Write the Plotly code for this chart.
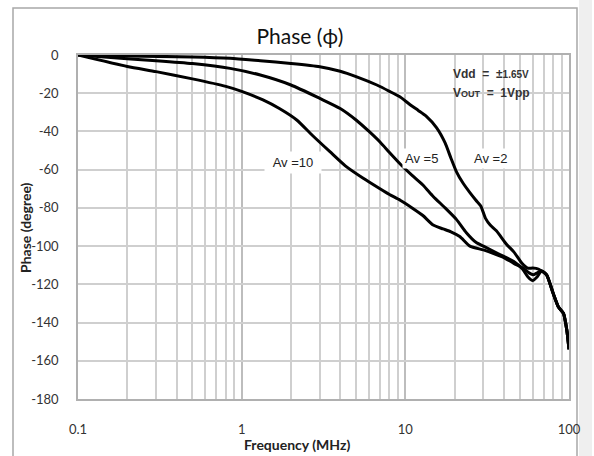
import plotly.graph_objects as go

# ---- data ----
f_av2 = [0.1, 0.2, 0.5, 0.85, 1.3, 2, 3, 4, 5, 6.7, 8, 9.3, 10.7, 12, 13.4, 15.5, 17.5, 19, 20.5, 22.5,
         24.8, 27, 28.9, 30.9, 33, 36, 41.5, 46, 51.6, 56, 60, 65, 68, 73, 80, 86, 92.5, 97, 100]
ph_av2 = [0, -0.5, -1, -1.7, -3, -4.4, -6.1, -8.5, -11.3, -15.7, -19, -22, -26, -29, -32, -38, -46, -54, -61, -67,
          -72, -76, -79, -85.5, -89, -92, -99, -103, -109, -111.5, -111.5, -112, -113, -115, -124.7, -131.7, -135.2,
          -144, -154]

f_av5 = [0.1, 0.2, 0.3, 0.5, 0.85, 1.3, 2, 3, 4, 5, 6, 7, 8, 9.3, 11, 12.8, 14.8, 17.5, 20.5, 23.6, 27, 30,
         37, 46, 52, 56, 60, 64, 68, 73, 80, 86, 92.5, 97, 100]
ph_av5 = [0, -2, -3, -4.5, -7, -10.5, -15.7, -22.7, -28, -34, -40, -45.5, -51, -57, -63, -68, -74, -80, -86, -93,
          -98, -100, -104, -108, -112, -116, -118, -116, -113, -115, -124.7, -131.7, -135.2, -144, -154]

f_av10 = [0.1, 0.2, 0.3, 0.5, 0.8, 1, 1.35, 1.7, 2.17, 2.7, 3.46, 4.3, 5.53, 7, 8, 9.3, 11, 12.8, 14.8, 17, 19,
          21.5, 24.8, 30, 35, 40, 46, 52.5, 57, 60.4, 64, 68, 73, 80, 86, 92.5, 97, 100]
ph_av10 = [0, -6, -8.7, -12.5, -16.4, -19, -23.5, -28, -34, -42, -50.6, -58, -64.5, -70, -73, -76, -80, -84, -89,
           -91, -92.5, -95, -100, -102, -104, -106, -109, -111.5, -114, -115, -114, -113, -115, -124.7, -131.7,
           -135.2, -144, -154]

x_ticks = [0.1, 1, 10, 100]
x_tick_text = ["0.1", "1", "10", "100"]
y_ticks = [0, -20, -40, -60, -80, -100, -120, -140, -160, -180]
y_tick_text = ["0", "-20", "-40", "-60", "-80", "-100", "-120", "-140", "-160", "-180"]

# ---- figure ----
fig = go.Figure()
for fx, py in [(f_av2, ph_av2), (f_av5, ph_av5), (f_av10, ph_av10)]:
    fig.add_trace(go.Scatter(x=fx, y=py, mode="lines",
                             line=dict(color="black", width=3, shape="spline", smoothing=0.6),
                             showlegend=False, hoverinfo="skip"))

W, H = 594, 456
L, R, T, B = 78, 25, 55, 57
PW, PH = W - L - R, H - T - B


def px(xp):
    return (xp - L) / PW


def py_(yp):
    return (H - B - yp) / PH


grid = "#cfcfcf"
font_main = "Lato, Open Sans, sans-serif"
tickfont = dict(family=font_main, size=13, color="#333333")
fig.update_layout(
    width=W, height=H,
    margin=dict(l=L, r=R, t=T, b=B),
    paper_bgcolor="white", plot_bgcolor="white",
    title=dict(text="Phase (ϕ)", x=300 / W, xanchor="center", y=1 - 37 / H, yanchor="middle",
               font=dict(family=font_main, size=21, color="#111111")),
    xaxis=dict(type="log", range=[-1, 2], tickvals=x_ticks, ticktext=x_tick_text,
               showgrid=True, gridcolor="#bdbdbd", gridwidth=1.5,
               minor=dict(dtick="D1", showgrid=True, gridcolor=grid, gridwidth=1.5, ticklen=0),
               showline=True, linecolor="#b0b0b0", linewidth=1.5, mirror=True,
               ticks="", ticklabelstandoff=18, tickfont=tickfont, zeroline=False),
    yaxis=dict(range=[-180, 0], tickvals=y_ticks, ticktext=y_tick_text,
               showgrid=True, gridcolor=grid, gridwidth=1.5,
               showline=True, linecolor="#b0b0b0", linewidth=1.5, mirror=True,
               ticks="", ticklabelstandoff=15, tickfont=tickfont, zeroline=False),
)

# axis titles
fig.add_annotation(xref="paper", yref="paper", x=px(297), y=py_(444), xanchor="center", yanchor="middle",
                   text="<b>Frequency (MHz)</b>",
                   showarrow=False, font=dict(family=font_main, size=14, color="#222222"))
fig.add_annotation(xref="paper", yref="paper", x=px(25), y=py_(228), xanchor="center", yanchor="middle",
                   text="<b>Phase (degree)</b>",
                   textangle=-90, showarrow=False, font=dict(family=font_main, size=14, color="#222222"))

# outer chart border and right shadow band
fig.add_shape(type="rect", xref="paper", yref="paper",
              x0=px(13), x1=px(577), y0=py_(470), y1=py_(8),
              line=dict(color="#a8a8a8", width=1.5), layer="below")
fig.add_shape(type="rect", xref="paper", yref="paper",
              x0=px(579), x1=px(592), y0=py_(470), y1=py_(0),
              line=dict(width=0), fillcolor="#efefef", layer="below")

# white box behind the supply text
fig.add_shape(type="rect", xref="paper", yref="paper",
              x0=px(449), x1=px(562), y0=py_(98), y1=py_(66),
              line=dict(width=0), fillcolor="white", layer="between")

lab_font = dict(family="Liberation Sans Narrow, Arial Narrow, Liberation Sans, sans-serif", size=13, color="#222222")
fig.add_annotation(x=0.315, y=-56, text="Av =10", showarrow=False, font=lab_font,
                   bgcolor="white", borderpad=3, width=50)
fig.add_annotation(x=1.101, y=-54, text="Av =5", showarrow=False, font=lab_font,
                   bgcolor="white", borderpad=2)
fig.add_annotation(x=1.523, y=-54, text="Av =2", showarrow=False, font=lab_font,
                   bgcolor="white", borderpad=2)

sup_font = dict(family="Liberation Sans Narrow, Arial Narrow, Liberation Sans, sans-serif", size=12, color="#333333")
fig.add_annotation(xref="paper", yref="paper", x=px(451), y=py_(74), xanchor="left", yanchor="middle",
                   text="<b>Vdd  =  ±<span style='font-size:10px'>1.65V</span></b>",
                   showarrow=False, font=sup_font)
fig.add_annotation(xref="paper", yref="paper", x=px(451), y=py_(93), xanchor="left", yanchor="middle",
                   text="<b>V<span style='font-size:9px'>OUT</span>  =  1Vpp</b>",
                   showarrow=False, font=sup_font)

fig.write_html("out.html")
